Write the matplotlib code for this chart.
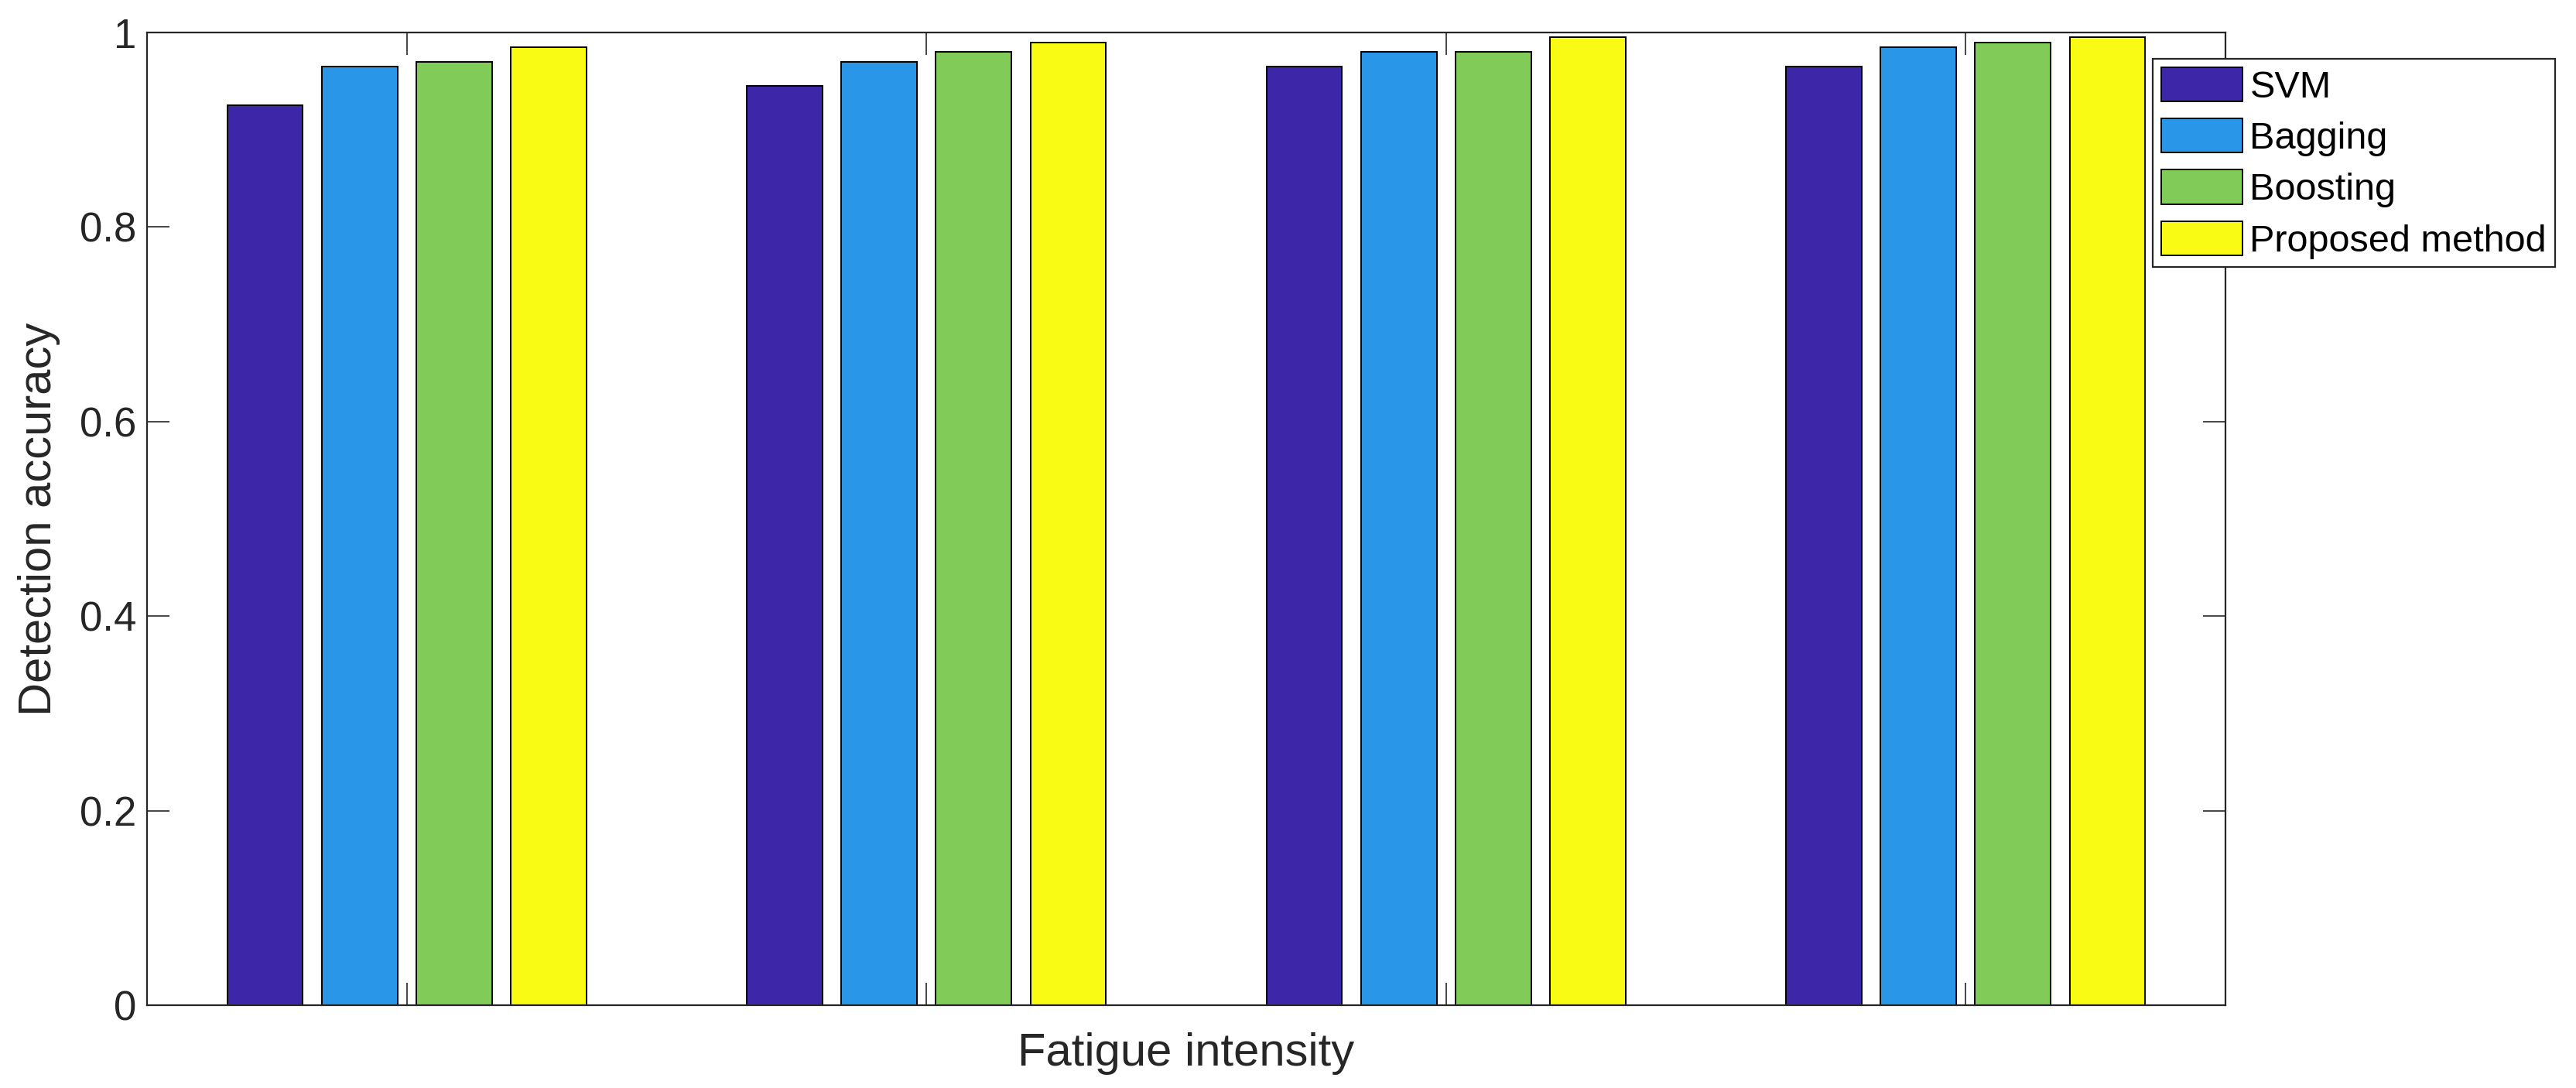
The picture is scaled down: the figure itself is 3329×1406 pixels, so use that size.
import matplotlib
matplotlib.use("Agg")
import matplotlib.pyplot as plt
import numpy as np

plt.rcParams['font.family'] = ['Liberation Sans', 'DejaVu Sans']

groups = [1, 2, 3, 4]
series_names = ["SVM", "Bagging", "Boosting", "Proposed method"]
svm = [0.925, 0.945, 0.965, 0.965]
bagging = [0.965, 0.970, 0.980, 0.985]
boosting = [0.970, 0.980, 0.980, 0.990]
proposed = [0.985, 0.990, 0.995, 0.995]
yticks = [0, 0.2, 0.4, 0.6, 0.8, 1.0]
ytick_labels = ["0", "0.2", "0.4", "0.6", "0.8", "1"]
colors = ["#3E26A8", "#2A96E8", "#81CC59", "#F9FB15"]

W, H, DPI = 3330, 1406, 100
fig = plt.figure(figsize=(W / DPI, H / DPI), dpi=DPI)
ax = fig.add_axes([190 / W, 1 - 1299 / H, (2876 - 190) / W, (1299 - 42) / H])

data = [svm, bagging, boosting, proposed]
n = len(data)
group_w = min(0.8, n / (n + 1.5))
step = group_w / n
bar_w = step * 0.8
x = np.array(groups, dtype=float)
for i, (vals, name, c) in enumerate(zip(data, series_names, colors)):
    offs = (i - (n - 1) / 2) * step
    ax.bar(x + offs, vals, width=bar_w, color=c, edgecolor="black",
           linewidth=1.4, label=name, zorder=2)

ax.set_xlim(0.5, 4.5)
ax.set_ylim(0, 1)
ax.set_xticks(groups)
ax.set_xticklabels([])
ax.set_yticks(yticks)
ax.set_yticklabels(ytick_labels)
axc = "#262626"
for s in ax.spines.values():
    s.set_color(axc)
    s.set_linewidth(1.6)
    s.set_zorder(3)
ax.tick_params(axis="both", direction="in", length=21, width=1.2, color=axc,
               top=True, right=True, labelsize=38, labelcolor=axc, pad=10)
ax.set_xlabel("Fatigue intensity", fontsize=43, color=axc, labelpad=15)
ax.set_ylabel("Detection accuracy", fontsize=43, color=axc, labelpad=18)

leg = ax.legend(loc="upper left", bbox_to_anchor=(2782 / W, 1 - 76 / H),
                bbox_transform=fig.transFigure, borderaxespad=0,
                fontsize=35, handlelength=2.16, handleheight=1.03,
                labelspacing=0.36, handletextpad=0.2, borderpad=0.22,
                fancybox=False, frameon=True, framealpha=1)
leg.get_frame().set_edgecolor(axc)
leg.get_frame().set_linewidth(1.6)
leg.set_zorder(5)

fig.savefig("out.png", dpi=DPI, facecolor="white")
